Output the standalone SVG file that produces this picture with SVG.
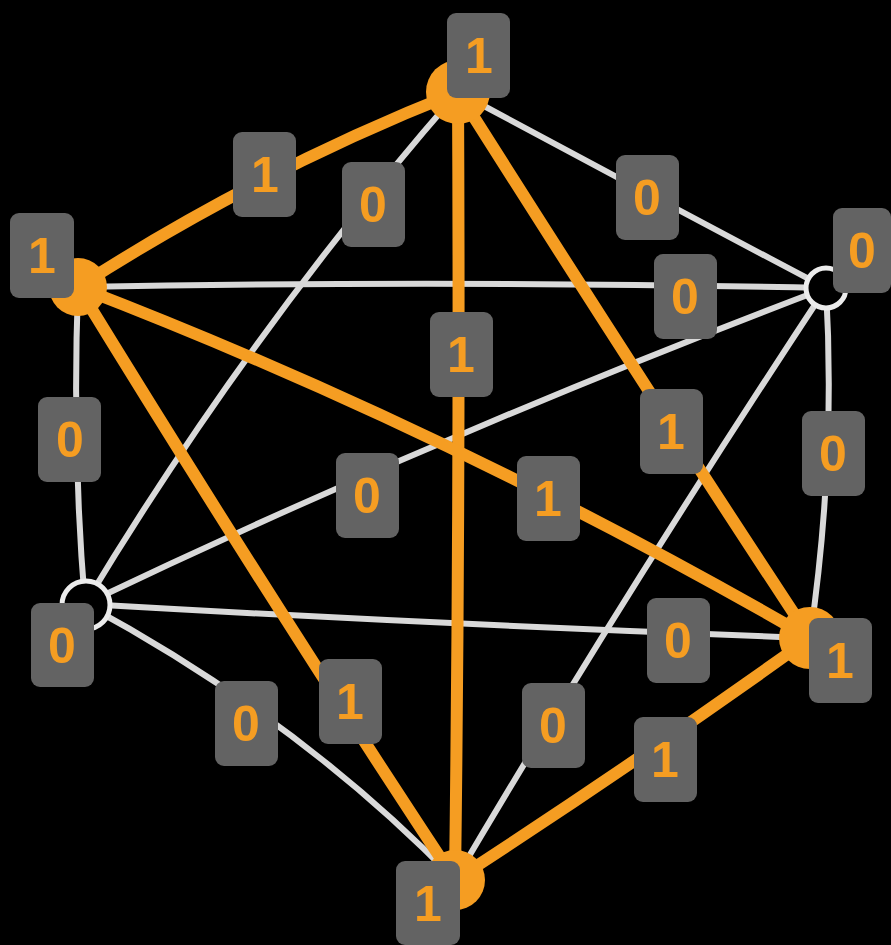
<svg xmlns="http://www.w3.org/2000/svg" width="891" height="945" viewBox="0 0 891 945">
<style>
.bg{fill:#000}
.e0{stroke:#d9d9d9;stroke-width:6;fill:none;stroke-linecap:round}
.e1{stroke:#f59d22;stroke-width:12;fill:none;stroke-linecap:round}
.n1{fill:#f59d22}
.n0{fill:#000;stroke:#ececec;stroke-width:5}
.box{fill:#636363}
.t{fill:#f59d22;font-family:"Liberation Sans",Arial,sans-serif;font-size:50px;font-weight:bold;text-anchor:middle}
</style>
<rect class="bg" x="0" y="0" width="891" height="945"/>
<g id="connectors">
  <path id="e-T-RT" class="e0" d="M458,92 Q640,190 826,288"/>
  <path id="e-T-LB" class="e0" d="M458,92 Q250,330 85,604"/>
  <path id="e-LT-RT" class="e0" d="M78,287 Q450,280 826,288"/>
  <path id="e-LT-LB" class="e0" d="M78,287 Q72,450 85,604"/>
  <path id="e-RT-LB" class="e0" d="M826,288 Q450,430 85,604"/>
  <path id="e-RT-RB" class="e0" d="M826,288 Q836,460 810,638"/>
  <path id="e-RT-B" class="e0" d="M826,288 Q620,600 455,880"/>
  <path id="e-LB-RB" class="e0" d="M85,604 Q450,625 810,638"/>
  <path id="e-LB-B" class="e0" d="M85,604 Q300,720 455,880"/>
  <path id="e-T-LT" class="e1" d="M458,92 Q260,170 78,287"/>
  <path id="e-T-RB" class="e1" d="M458,92 Q640,380 810,638"/>
  <path id="e-T-B" class="e1" d="M458,92 Q460,490 455,880"/>
  <path id="e-LT-RB" class="e1" d="M78,287 Q450,430 810,638"/>
  <path id="e-LT-B" class="e1" d="M78,287 Q270,600 455,880"/>
  <path id="e-RB-B" class="e1" d="M810,638 Q640,760 455,880"/>
</g>
<g id="node-T"><circle class="n1" cx="458" cy="92" r="32"/><rect class="box" x="447" y="13" width="63" height="85" rx="9"/><text class="t" x="479" y="73">1</text></g>
<g id="node-LT"><circle class="n1" cx="78" cy="287" r="29"/><rect class="box" x="10" y="213" width="64" height="85" rx="9"/><text class="t" x="42" y="273">1</text></g>
<g id="node-RT"><circle class="n0" cx="826" cy="288" r="20"/><rect class="box" x="833" y="208" width="58" height="85" rx="9"/><text class="t" x="862" y="268">0</text></g>
<g id="node-LB"><circle class="n0" cx="86" cy="605" r="24"/><rect class="box" x="31" y="603" width="63" height="84" rx="9"/><text class="t" x="62" y="663">0</text></g>
<g id="node-RB"><circle class="n1" cx="810" cy="638" r="31"/><rect class="box" x="809" y="618" width="63" height="85" rx="9"/><text class="t" x="840" y="678">1</text></g>
<g id="node-B"><circle class="n1" cx="455" cy="880" r="30"/><rect class="box" x="396" y="861" width="64" height="84" rx="9"/><text class="t" x="428" y="921">1</text></g>
<g id="labels">
  <g id="l-T-LT"><rect class="box" x="233" y="132" width="63" height="85" rx="9"/><text class="t" x="265" y="192">1</text></g>
  <g id="l-T-LB"><rect class="box" x="342" y="162" width="63" height="85" rx="9"/><text class="t" x="373" y="222">0</text></g>
  <g id="l-T-RT"><rect class="box" x="616" y="155" width="63" height="85" rx="9"/><text class="t" x="647" y="215">0</text></g>
  <g id="l-LT-RT"><rect class="box" x="654" y="254" width="63" height="85" rx="9"/><text class="t" x="685" y="314">0</text></g>
  <g id="l-T-B"><rect class="box" x="430" y="312" width="63" height="85" rx="9"/><text class="t" x="461" y="372">1</text></g>
  <g id="l-LT-LB"><rect class="box" x="38" y="397" width="63" height="85" rx="9"/><text class="t" x="70" y="457">0</text></g>
  <g id="l-T-RB"><rect class="box" x="640" y="389" width="63" height="85" rx="9"/><text class="t" x="671" y="449">1</text></g>
  <g id="l-RT-RB"><rect class="box" x="802" y="411" width="63" height="85" rx="9"/><text class="t" x="833" y="471">0</text></g>
  <g id="l-RT-LB"><rect class="box" x="336" y="453" width="63" height="85" rx="9"/><text class="t" x="367" y="513">0</text></g>
  <g id="l-LT-RB"><rect class="box" x="517" y="456" width="63" height="85" rx="9"/><text class="t" x="548" y="516">1</text></g>
  <g id="l-LB-RB"><rect class="box" x="647" y="598" width="63" height="85" rx="9"/><text class="t" x="678" y="658">0</text></g>
  <g id="l-LT-B"><rect class="box" x="319" y="659" width="63" height="85" rx="9"/><text class="t" x="350" y="719">1</text></g>
  <g id="l-LB-B"><rect class="box" x="215" y="681" width="63" height="85" rx="9"/><text class="t" x="246" y="741">0</text></g>
  <g id="l-RT-B"><rect class="box" x="522" y="683" width="63" height="85" rx="9"/><text class="t" x="553" y="743">0</text></g>
  <g id="l-RB-B"><rect class="box" x="634" y="717" width="63" height="85" rx="9"/><text class="t" x="665" y="777">1</text></g>
</g>
</svg>
